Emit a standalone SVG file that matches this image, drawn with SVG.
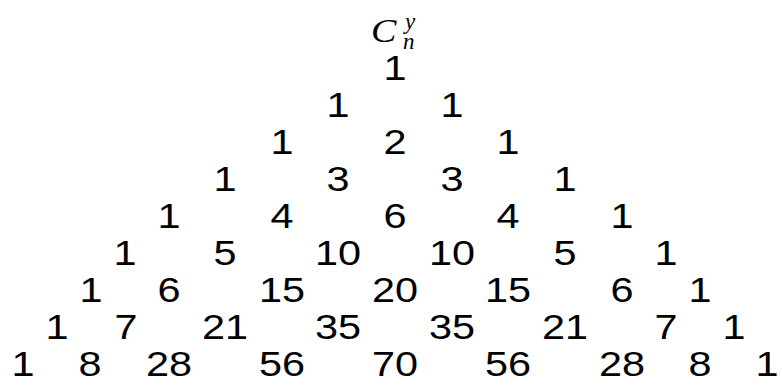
<svg xmlns="http://www.w3.org/2000/svg" width="782" height="386" viewBox="0 0 782 386">
<style>
.n{font-family:"Liberation Sans",Arial,sans-serif;font-size:36px;fill:#000;text-anchor:middle}
.m{font-family:"Liberation Serif","Times New Roman",serif;font-style:italic;fill:#000}
</style>
<rect width="782" height="386" fill="#fff"/>
<g id="title">
<text class="m" transform="translate(371,42) scale(1.12,1)" font-size="34">C</text>
<text class="m" x="405" y="29" font-size="23">y</text>
<text class="m" x="403" y="49" font-size="23">n</text>
</g>
<g id="row1">
<text class="n" transform="translate(395,80) scale(1.15,1)">1</text>
</g>
<g id="row2">
<text class="n" transform="translate(338,117) scale(1.15,1)">1</text>
<text class="n" transform="translate(452,117) scale(1.15,1)">1</text>
</g>
<g id="row3">
<text class="n" transform="translate(282,154) scale(1.15,1)">1</text>
<text class="n" transform="translate(395,154) scale(1.15,1)">2</text>
<text class="n" transform="translate(508,154) scale(1.15,1)">1</text>
</g>
<g id="row4">
<text class="n" transform="translate(225,191) scale(1.15,1)">1</text>
<text class="n" transform="translate(338,191) scale(1.15,1)">3</text>
<text class="n" transform="translate(452,191) scale(1.15,1)">3</text>
<text class="n" transform="translate(565,191) scale(1.15,1)">1</text>
</g>
<g id="row5">
<text class="n" transform="translate(169,228) scale(1.15,1)">1</text>
<text class="n" transform="translate(282,228) scale(1.15,1)">4</text>
<text class="n" transform="translate(395,228) scale(1.15,1)">6</text>
<text class="n" transform="translate(508,228) scale(1.15,1)">4</text>
<text class="n" transform="translate(622,228) scale(1.15,1)">1</text>
</g>
<g id="row6">
<text class="n" transform="translate(125,265) scale(1.15,1)">1</text>
<text class="n" transform="translate(225,265) scale(1.15,1)">5</text>
<text class="n" transform="translate(338,265) scale(1.15,1)">10</text>
<text class="n" transform="translate(452,265) scale(1.15,1)">10</text>
<text class="n" transform="translate(565,265) scale(1.15,1)">5</text>
<text class="n" transform="translate(666,265) scale(1.15,1)">1</text>
</g>
<g id="row7">
<text class="n" transform="translate(91,302) scale(1.15,1)">1</text>
<text class="n" transform="translate(169,302) scale(1.15,1)">6</text>
<text class="n" transform="translate(282,302) scale(1.15,1)">15</text>
<text class="n" transform="translate(395,302) scale(1.15,1)">20</text>
<text class="n" transform="translate(508,302) scale(1.15,1)">15</text>
<text class="n" transform="translate(622,302) scale(1.15,1)">6</text>
<text class="n" transform="translate(700,302) scale(1.15,1)">1</text>
</g>
<g id="row8">
<text class="n" transform="translate(57,339) scale(1.15,1)">1</text>
<text class="n" transform="translate(126,339) scale(1.15,1)">7</text>
<text class="n" transform="translate(225,339) scale(1.15,1)">21</text>
<text class="n" transform="translate(338,339) scale(1.15,1)">35</text>
<text class="n" transform="translate(452,339) scale(1.15,1)">35</text>
<text class="n" transform="translate(565,339) scale(1.15,1)">21</text>
<text class="n" transform="translate(666,339) scale(1.15,1)">7</text>
<text class="n" transform="translate(734,339) scale(1.15,1)">1</text>
</g>
<g id="row9">
<text class="n" transform="translate(23,376) scale(1.15,1)">1</text>
<text class="n" transform="translate(90,376) scale(1.15,1)">8</text>
<text class="n" transform="translate(169,376) scale(1.15,1)">28</text>
<text class="n" transform="translate(282,376) scale(1.15,1)">56</text>
<text class="n" transform="translate(395,376) scale(1.15,1)">70</text>
<text class="n" transform="translate(508,376) scale(1.15,1)">56</text>
<text class="n" transform="translate(622,376) scale(1.15,1)">28</text>
<text class="n" transform="translate(700,376) scale(1.15,1)">8</text>
<text class="n" transform="translate(767,376) scale(1.15,1)">1</text>
</g>
</svg>
